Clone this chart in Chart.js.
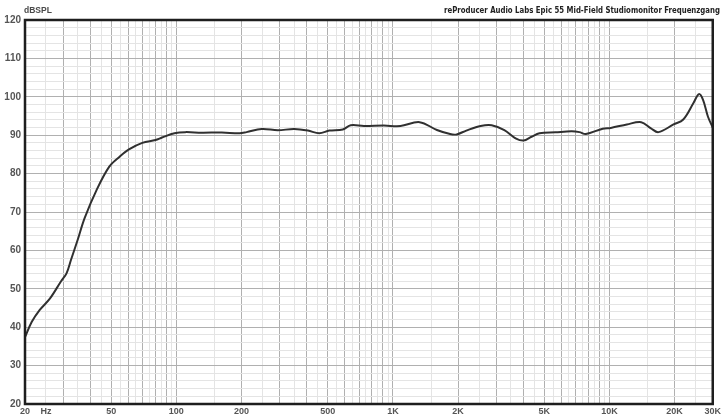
<!DOCTYPE html>
<html>
<head>
<meta charset="utf-8">
<script src="https://cdn.jsdelivr.net/npm/chart.js@4.4.1/dist/chart.umd.min.js"></script>
<style>
html,body{margin:0;padding:0;background:#fff;}
#wrap{width:723px;height:418px;position:relative;}
</style>
</head>
<body>
<div id="wrap"><canvas id="c" width="723" height="418"></canvas></div>
<script>
// Frequency (Hz) of traced points
const freqs = [20, 21.5, 23.4, 26.1, 29.3, 31.1, 32.6, 35, 37.7, 42.8, 49, 54.7, 60.4, 69.6, 80.1, 85.9, 98, 110, 131, 162, 196, 211, 248, 294, 350, 405, 457, 509, 587, 639, 735, 908, 1084, 1328, 1597, 1838, 1970, 2183, 2541, 2858, 3271, 3687, 4012, 4366, 4755, 5632, 6673, 7267, 7785, 9309, 10149, 12033, 14024, 15550, 16840, 19770, 21930, 24400, 25900, 27060, 28520, 30000];
// Sound pressure level (dB SPL)
const splValues = [37.4, 41.4, 44.5, 47.5, 51.9, 54.0, 57.5, 62.7, 68.4, 75.7, 81.8, 84.4, 86.3, 88.0, 88.75, 89.4, 90.5, 90.8, 90.65, 90.7, 90.5, 90.8, 91.6, 91.3, 91.6, 91.2, 90.5, 91.2, 91.5, 92.6, 92.4, 92.5, 92.4, 93.4, 91.35, 90.3, 90.2, 91.2, 92.4, 92.6, 91.35, 89.2, 88.6, 89.6, 90.5, 90.75, 91.0, 90.8, 90.3, 91.7, 91.9, 92.8, 93.4, 91.8, 90.8, 92.8, 94.1, 98.3, 100.7, 99.2, 94.8, 92.0];
// X tick labels
const xLabelFreqs = [20, 25, 50, 100, 200, 500, 1000, 2000, 5000, 10000, 20000, 30000];
const xLabelTexts = ['20', 'Hz', '50', '100', '200', '500', '1K', '2K', '5K', '10K', '20K', '30K'];
const titleText = 'reProducer Audio Labs Epic 55 Mid-Field Studiomonitor Frequenzgang';
const yUnitText = 'dBSPL';

// grid frequencies: integer multiples (major) and half steps (minor)
const gridFreqs = [];
const majorSet = new Set();
[10, 100, 1000, 10000].forEach(d => {
  for (let m = 1; m <= 9.5; m += 0.5) {
    const f = Math.round(m * d);
    if (f >= 20 && f <= 30000 && !gridFreqs.includes(f)) {
      gridFreqs.push(f);
      if (Number.isInteger(m)) majorSet.add(f);
    }
  }
});
gridFreqs.sort((a, b) => a - b);

const points = freqs.map((f, i) => ({x: f, y: splValues[i]}));

const frame = {
  id: 'frame',
  afterDraw(chart) {
    const {ctx, chartArea: a} = chart;
    ctx.save();
    ctx.strokeStyle = '#1e1e1e';
    ctx.lineWidth = 2.5;
    ctx.strokeRect(a.left, a.top, a.right - a.left, a.bottom - a.top);
    // title, condensed to the reference width
    ctx.fillStyle = '#222';
    ctx.font = 'bold 9.5px "Liberation Sans Narrow", "DejaVu Sans Condensed", sans-serif';
    ctx.textBaseline = 'middle';
    const w = ctx.measureText(titleText).width;
    const target = 276;
    const sx = w > target ? target / w : 1;
    ctx.save();
    ctx.translate(720, 11);
    ctx.scale(sx, 1);
    ctx.textAlign = 'right';
    ctx.fillText(titleText, 0, 0);
    ctx.restore();
    ctx.fillStyle = '#4a4a4a';
    ctx.font = 'bold 8.5px "Liberation Sans", Arial, sans-serif';
    ctx.textAlign = 'left';
    ctx.fillText(yUnitText, 24, 11);
    ctx.restore();
  }
};

new Chart(document.getElementById('c'), {
  type: 'line',
  data: {
    datasets: [{
      data: points,
      borderColor: '#303030',
      borderWidth: 2,
      pointRadius: 0,
      tension: 0.35,
      fill: false
    }]
  },
  options: {
    responsive: false,
    animation: false,
    devicePixelRatio: 1,
    layout: {padding: {top: 20, right: 5, left: 0, bottom: 0}},
    plugins: {legend: {display: false}, tooltip: {enabled: false}},
    scales: {
      x: {
        type: 'logarithmic',
        min: 20,
        max: 30000,
        afterBuildTicks(scale) { scale.ticks = gridFreqs.map(v => ({value: v})); },
        afterFit(scale) { scale.height = 14; },
        ticks: {
          autoSkip: false,
          maxRotation: 0,
          padding: 2,
          color: '#555',
          font: {family: '"Liberation Sans", Arial, sans-serif', size: 9, weight: 'bold'},
          callback(v) {
            const i = xLabelFreqs.indexOf(Math.round(v));
            return i >= 0 ? xLabelTexts[i] : '';
          }
        },
        grid: {
          drawTicks: false,
          lineWidth: 1,
          color: ctx => (ctx.tick && majorSet.has(Math.round(ctx.tick.value))) ? '#b0b0b0' : '#e4e4e4'
        },
        border: {display: false}
      },
      y: {
        type: 'linear',
        min: 20,
        max: 120,
        afterFit(scale) { scale.width = 25; },
        ticks: {
          stepSize: 2,
          autoSkip: false,
          padding: 4,
          color: '#555',
          font: {family: '"Liberation Sans", Arial, sans-serif', size: 10, weight: 'bold'},
          callback(v) { return v % 10 === 0 ? String(v) : ''; }
        },
        grid: {
          drawTicks: false,
          lineWidth: 1,
          color: ctx => (ctx.tick && ctx.tick.value % 10 === 0) ? '#b0b0b0' : '#e4e4e4'
        },
        border: {display: false}
      }
    }
  },
  plugins: [frame]
});
</script>
</body>
</html>
